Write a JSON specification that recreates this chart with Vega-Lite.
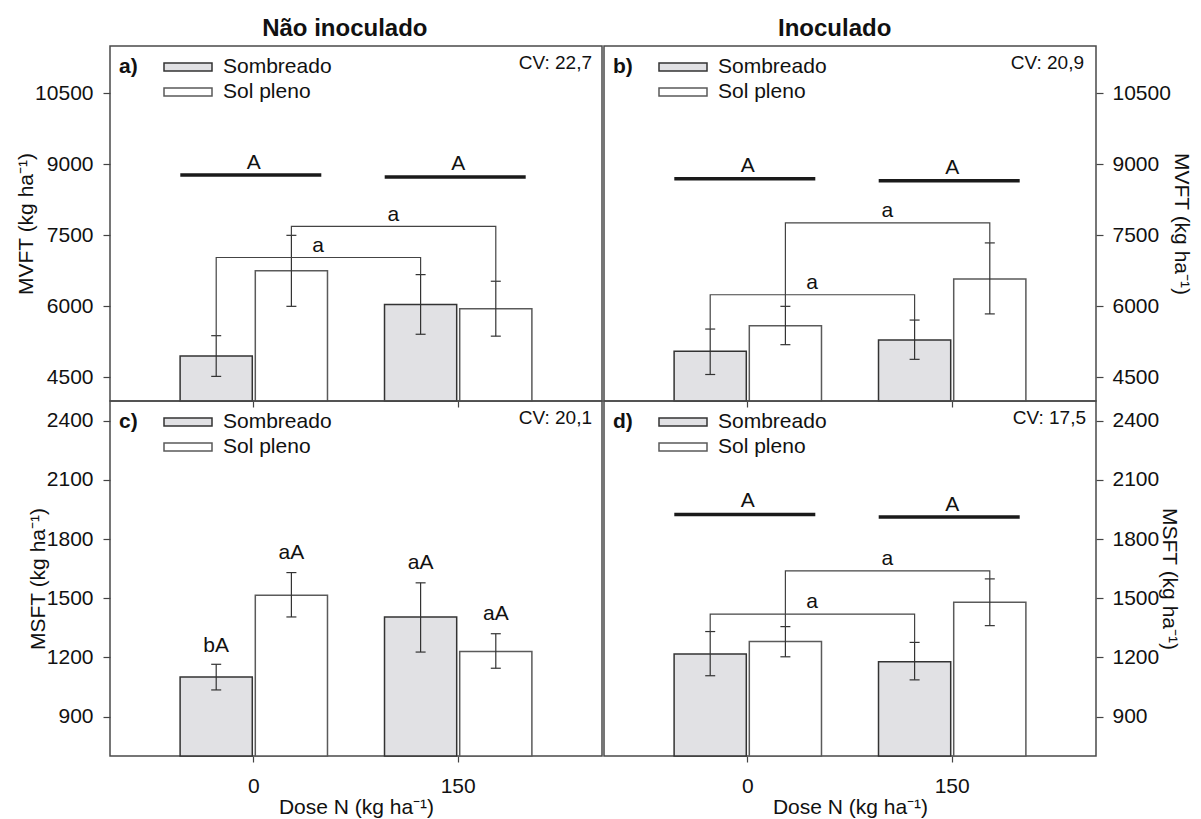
{
  "$schema": "https://vega.github.io/schema/vega-lite/v6.json",
  "padding": {"left": 14, "top": 17, "right": 5, "bottom": 0},
  "background": "#ffffff",
  "config": {
    "font": "Liberation Sans",
    "view": {"stroke": "#4a4a4a", "strokeWidth": 1.5},
    "axis": {"grid": false, "domain": false, "tickColor": "#444444", "tickWidth": 1.2, "labelFontSize": 21, "labelColor": "#111111", "titleFontSize": 21, "titleFontWeight": "normal", "titleColor": "#111111"},
    "title": {"color": "#111111"}
  },
  "datasets": {
    "barras": [
      {"painel": "a", "dose": 0, "trat": "Sombreado", "media": 4950, "inf": 4520, "sup": 5380},
      {"painel": "a", "dose": 0, "trat": "Sol pleno", "media": 6750, "inf": 6000, "sup": 7500},
      {"painel": "a", "dose": 150, "trat": "Sombreado", "media": 6040, "inf": 5410, "sup": 6670},
      {"painel": "a", "dose": 150, "trat": "Sol pleno", "media": 5950, "inf": 5370, "sup": 6530},
      {"painel": "b", "dose": 0, "trat": "Sombreado", "media": 5050, "inf": 4560, "sup": 5520},
      {"painel": "b", "dose": 0, "trat": "Sol pleno", "media": 5590, "inf": 5190, "sup": 6000},
      {"painel": "b", "dose": 150, "trat": "Sombreado", "media": 5290, "inf": 4880, "sup": 5710},
      {"painel": "b", "dose": 150, "trat": "Sol pleno", "media": 6580, "inf": 5840, "sup": 7340},
      {"painel": "c", "dose": 0, "trat": "Sombreado", "media": 1100, "inf": 1035, "sup": 1165},
      {"painel": "c", "dose": 0, "trat": "Sol pleno", "media": 1515, "inf": 1405, "sup": 1630},
      {"painel": "c", "dose": 150, "trat": "Sombreado", "media": 1405, "inf": 1227, "sup": 1578},
      {"painel": "c", "dose": 150, "trat": "Sol pleno", "media": 1230, "inf": 1145, "sup": 1320},
      {"painel": "d", "dose": 0, "trat": "Sombreado", "media": 1217, "inf": 1107, "sup": 1331},
      {"painel": "d", "dose": 0, "trat": "Sol pleno", "media": 1280, "inf": 1203, "sup": 1356},
      {"painel": "d", "dose": 150, "trat": "Sombreado", "media": 1178, "inf": 1086, "sup": 1276},
      {"painel": "d", "dose": 150, "trat": "Sol pleno", "media": 1480, "inf": 1361, "sup": 1598}
    ],
    "chaves": [
      {"painel": "a", "id": "a1", "trat": "Sombreado", "dose": 0, "y": 5380, "ordem": 1},
      {"painel": "a", "id": "a1", "trat": "Sombreado", "dose": 0, "y": 7032, "ordem": 2},
      {"painel": "a", "id": "a1", "trat": "Sombreado", "dose": 150, "y": 7032, "ordem": 3},
      {"painel": "a", "id": "a1", "trat": "Sombreado", "dose": 150, "y": 6670, "ordem": 4},
      {"painel": "a", "id": "a2", "trat": "Sol pleno", "dose": 0, "y": 7500, "ordem": 1},
      {"painel": "a", "id": "a2", "trat": "Sol pleno", "dose": 0, "y": 7691, "ordem": 2},
      {"painel": "a", "id": "a2", "trat": "Sol pleno", "dose": 150, "y": 7691, "ordem": 3},
      {"painel": "a", "id": "a2", "trat": "Sol pleno", "dose": 150, "y": 6530, "ordem": 4},
      {"painel": "b", "id": "b1", "trat": "Sombreado", "dose": 0, "y": 5520, "ordem": 1},
      {"painel": "b", "id": "b1", "trat": "Sombreado", "dose": 0, "y": 6245, "ordem": 2},
      {"painel": "b", "id": "b1", "trat": "Sombreado", "dose": 150, "y": 6245, "ordem": 3},
      {"painel": "b", "id": "b1", "trat": "Sombreado", "dose": 150, "y": 5710, "ordem": 4},
      {"painel": "b", "id": "b2", "trat": "Sol pleno", "dose": 0, "y": 6000, "ordem": 1},
      {"painel": "b", "id": "b2", "trat": "Sol pleno", "dose": 0, "y": 7762, "ordem": 2},
      {"painel": "b", "id": "b2", "trat": "Sol pleno", "dose": 150, "y": 7762, "ordem": 3},
      {"painel": "b", "id": "b2", "trat": "Sol pleno", "dose": 150, "y": 7340, "ordem": 4},
      {"painel": "d", "id": "d1", "trat": "Sombreado", "dose": 0, "y": 1331, "ordem": 1},
      {"painel": "d", "id": "d1", "trat": "Sombreado", "dose": 0, "y": 1419, "ordem": 2},
      {"painel": "d", "id": "d1", "trat": "Sombreado", "dose": 150, "y": 1419, "ordem": 3},
      {"painel": "d", "id": "d1", "trat": "Sombreado", "dose": 150, "y": 1276, "ordem": 4},
      {"painel": "d", "id": "d2", "trat": "Sol pleno", "dose": 0, "y": 1356, "ordem": 1},
      {"painel": "d", "id": "d2", "trat": "Sol pleno", "dose": 0, "y": 1639, "ordem": 2},
      {"painel": "d", "id": "d2", "trat": "Sol pleno", "dose": 150, "y": 1639, "ordem": 3},
      {"painel": "d", "id": "d2", "trat": "Sol pleno", "dose": 150, "y": 1598, "ordem": 4}
    ],
    "letras_chave": [
      {"painel": "a", "trat": "Sombreado", "dose": 0, "y": 7138, "letra": "a"},
      {"painel": "a", "trat": "Sol pleno", "dose": 0, "y": 7813, "letra": "a"},
      {"painel": "b", "trat": "Sombreado", "dose": 0, "y": 6357, "letra": "a"},
      {"painel": "b", "trat": "Sol pleno", "dose": 0, "y": 7883, "letra": "a"},
      {"painel": "d", "trat": "Sombreado", "dose": 0, "y": 1449, "letra": "a"},
      {"painel": "d", "trat": "Sol pleno", "dose": 0, "y": 1669, "letra": "a"}
    ],
    "grupos": [
      {"painel": "a", "dose": 0, "y_linha": 8777, "y_letra": 8911, "letra": "A"},
      {"painel": "a", "dose": 150, "y_linha": 8734, "y_letra": 8877, "letra": "A"},
      {"painel": "b", "dose": 0, "y_linha": 8698, "y_letra": 8840, "letra": "A"},
      {"painel": "b", "dose": 150, "y_linha": 8655, "y_letra": 8791, "letra": "A"},
      {"painel": "d", "dose": 0, "y_linha": 1924, "y_letra": 1963, "letra": "A"},
      {"painel": "d", "dose": 150, "y_linha": 1912, "y_letra": 1944, "letra": "A"}
    ],
    "letras_barras": [
      {"painel": "c", "dose": 0, "trat": "Sombreado", "y": 1225, "letra": "bA"},
      {"painel": "c", "dose": 0, "trat": "Sol pleno", "y": 1700, "letra": "aA"},
      {"painel": "c", "dose": 150, "trat": "Sombreado", "y": 1646, "letra": "aA"},
      {"painel": "c", "dose": 150, "trat": "Sol pleno", "y": 1390, "letra": "aA"}
    ]
  },
  "spacing": 0,
  "resolve": {"scale": {"fill": "independent", "stroke": "independent"}},
  "hconcat": [
    {
      "title": {"text": "Não inoculado", "anchor": "middle", "frame": "bounds", "fontSize": 24, "fontWeight": "bold", "offset": 4, "dx": 36},
      "bounds": "flush",
      "spacing": 0,
      "resolve": {"scale": {"fill": "independent", "stroke": "independent"}},
      "vconcat": [
        {
          "width": 492, "height": 355,
          "title": {"text": "CV: 22,7", "anchor": "end", "frame": "group", "baseline": "alphabetic", "offset": -42, "dx": -10, "fontSize": 19, "fontWeight": "normal"},
          "encoding": {"x": {"field": "dose", "type": "ordinal", "scale": {"paddingInner": 0.279, "paddingOuter": 0.343}, "axis": {"labels": false, "title": null, "tickSize": 6}}},
          "layer": [
            {"data": {"name": "barras"}, "transform": [{"filter": "datum.painel == 'a'"}],
             "mark": {"type": "bar", "strokeWidth": 1.5},
             "encoding": {
               "xOffset": {"field": "trat", "type": "nominal", "sort": ["Sombreado", "Sol pleno"], "scale": {"paddingInner": 0.04, "paddingOuter": 0}},
               "y": {"field": "media", "type": "quantitative", "scale": {"domain": [4000, 11500], "zero": false, "nice": false},
                     "axis": {"orient": "left", "values": [4500, 6000, 7500, 9000, 10500], "format": "d", "tickSize": 7, "labelPadding": 10, "title": "MVFT (kg ha⁻¹)", "titlePadding": -2}},
               "y2": {"datum": 4000},
               "fill": {"field": "trat", "type": "nominal", "sort": ["Sombreado", "Sol pleno"], "scale": {"domain": ["Sombreado", "Sol pleno"], "range": ["#e1e1e4", "#ffffff"]},
                        "legend": {"title": "a)", "orient": "none", "legendX": 9, "legendY": 10, "titleOrient": "left", "titleAnchor": "start", "titleBaseline": "top", "titleFontSize": 21, "titleFontWeight": "bold", "titleColor": "#111111", "titlePadding": 39, "labelFontSize": 21, "labelColor": "#111111", "labelOffset": 24, "symbolType": "M-2.4,-0.4H2.4V0.4H-2.4Z", "symbolSize": 400, "symbolStrokeWidth": 1.5, "rowPadding": 4, "padding": 0}},
               "stroke": {"field": "trat", "type": "nominal", "sort": ["Sombreado", "Sol pleno"], "scale": {"domain": ["Sombreado", "Sol pleno"], "range": ["#333333", "#5a5a5a"]},
                        "legend": {"title": "a)", "orient": "none", "legendX": 9, "legendY": 10, "titleOrient": "left", "titleAnchor": "start", "titleBaseline": "top", "titleFontSize": 21, "titleFontWeight": "bold", "titleColor": "#111111", "titlePadding": 39, "labelFontSize": 21, "labelColor": "#111111", "labelOffset": 24, "symbolType": "M-2.4,-0.4H2.4V0.4H-2.4Z", "symbolSize": 400, "symbolStrokeWidth": 1.5, "rowPadding": 4, "padding": 0}}
             }},
            {"data": {"name": "barras"}, "transform": [{"filter": "datum.painel == 'a'"}],
             "mark": {"type": "rule", "color": "#333333", "strokeWidth": 1.2},
             "encoding": {
               "xOffset": {"field": "trat", "type": "nominal", "sort": ["Sombreado", "Sol pleno"]},
               "y": {"field": "inf", "type": "quantitative", "scale": {"domain": [4000, 11500], "zero": false, "nice": false}},
               "y2": {"field": "sup"}
             }},
            {"data": {"name": "barras"}, "transform": [{"filter": "datum.painel == 'a'"}],
             "mark": {"type": "tick", "orient": "horizontal", "size": 10, "thickness": 1.2, "color": "#333333", "opacity": 1},
             "encoding": {
               "xOffset": {"field": "trat", "type": "nominal", "sort": ["Sombreado", "Sol pleno"]},
               "y": {"field": "inf", "type": "quantitative", "scale": {"domain": [4000, 11500], "zero": false, "nice": false}}
             }},
            {"data": {"name": "barras"}, "transform": [{"filter": "datum.painel == 'a'"}],
             "mark": {"type": "tick", "orient": "horizontal", "size": 10, "thickness": 1.2, "color": "#333333", "opacity": 1},
             "encoding": {
               "xOffset": {"field": "trat", "type": "nominal", "sort": ["Sombreado", "Sol pleno"]},
               "y": {"field": "sup", "type": "quantitative", "scale": {"domain": [4000, 11500], "zero": false, "nice": false}}
             }},
            {"data": {"name": "chaves"}, "transform": [{"filter": "datum.painel == 'a'"}],
             "mark": {"type": "line", "color": "#444444", "strokeWidth": 1.2},
             "encoding": {
               "xOffset": {"field": "trat", "type": "nominal", "sort": ["Sombreado", "Sol pleno"]},
               "y": {"field": "y", "type": "quantitative", "scale": {"domain": [4000, 11500], "zero": false, "nice": false}},
               "detail": {"field": "id"},
               "order": {"field": "ordem"}
             }},
            {"data": {"name": "letras_chave"}, "transform": [{"filter": "datum.painel == 'a'"}],
             "mark": {"type": "text", "fontSize": 21, "dx": 102, "baseline": "alphabetic", "color": "#111111"},
             "encoding": {
               "xOffset": {"field": "trat", "type": "nominal", "sort": ["Sombreado", "Sol pleno"]},
               "y": {"field": "y", "type": "quantitative", "scale": {"domain": [4000, 11500], "zero": false, "nice": false}},
               "text": {"field": "letra"}
             }},
            {"data": {"name": "grupos"}, "transform": [{"filter": "datum.painel == 'a'"}],
             "mark": {"type": "tick", "orient": "horizontal", "size": 141, "thickness": 3.5, "color": "#1a1a1a", "opacity": 1, "xOffset": -3},
             "encoding": {
               "y": {"field": "y_linha", "type": "quantitative", "scale": {"domain": [4000, 11500], "zero": false, "nice": false}}
             }},
            {"data": {"name": "grupos"}, "transform": [{"filter": "datum.painel == 'a'"}],
             "mark": {"type": "text", "fontSize": 21, "baseline": "alphabetic", "color": "#111111"},
             "encoding": {
               "y": {"field": "y_letra", "type": "quantitative", "scale": {"domain": [4000, 11500], "zero": false, "nice": false}},
               "text": {"field": "letra"}
             }}
          ]
        },
        {
          "width": 492, "height": 355,
          "title": {"text": "CV: 20,1", "anchor": "end", "frame": "group", "baseline": "alphabetic", "offset": -42, "dx": -10, "fontSize": 19, "fontWeight": "normal"},
          "encoding": {"x": {"field": "dose", "type": "ordinal", "scale": {"paddingInner": 0.279, "paddingOuter": 0.343}, "axis": {"labelAngle": 0, "labelPadding": 13, "tickSize": 6, "title": "Dose N (kg ha⁻¹)", "titlePadding": 0}}},
          "layer": [
            {"data": {"name": "barras"}, "transform": [{"filter": "datum.painel == 'c'"}],
             "mark": {"type": "bar", "strokeWidth": 1.5},
             "encoding": {
               "xOffset": {"field": "trat", "type": "nominal", "sort": ["Sombreado", "Sol pleno"], "scale": {"paddingInner": 0.04, "paddingOuter": 0}},
               "y": {"field": "media", "type": "quantitative", "scale": {"domain": [700, 2500], "zero": false, "nice": false},
                     "axis": {"orient": "left", "values": [900, 1200, 1500, 1800, 2100, 2400], "format": "d", "tickSize": 7, "labelPadding": 10, "title": "MSFT (kg ha⁻¹)", "titlePadding": -2}},
               "y2": {"datum": 700},
               "fill": {"field": "trat", "type": "nominal", "sort": ["Sombreado", "Sol pleno"], "scale": {"domain": ["Sombreado", "Sol pleno"], "range": ["#e1e1e4", "#ffffff"]},
                        "legend": {"title": "c)", "orient": "none", "legendX": 9, "legendY": 10, "titleOrient": "left", "titleAnchor": "start", "titleBaseline": "top", "titleFontSize": 21, "titleFontWeight": "bold", "titleColor": "#111111", "titlePadding": 39, "labelFontSize": 21, "labelColor": "#111111", "labelOffset": 24, "symbolType": "M-2.4,-0.4H2.4V0.4H-2.4Z", "symbolSize": 400, "symbolStrokeWidth": 1.5, "rowPadding": 4, "padding": 0}},
               "stroke": {"field": "trat", "type": "nominal", "sort": ["Sombreado", "Sol pleno"], "scale": {"domain": ["Sombreado", "Sol pleno"], "range": ["#333333", "#5a5a5a"]},
                        "legend": {"title": "c)", "orient": "none", "legendX": 9, "legendY": 10, "titleOrient": "left", "titleAnchor": "start", "titleBaseline": "top", "titleFontSize": 21, "titleFontWeight": "bold", "titleColor": "#111111", "titlePadding": 39, "labelFontSize": 21, "labelColor": "#111111", "labelOffset": 24, "symbolType": "M-2.4,-0.4H2.4V0.4H-2.4Z", "symbolSize": 400, "symbolStrokeWidth": 1.5, "rowPadding": 4, "padding": 0}}
             }},
            {"data": {"name": "barras"}, "transform": [{"filter": "datum.painel == 'c'"}],
             "mark": {"type": "rule", "color": "#333333", "strokeWidth": 1.2},
             "encoding": {
               "xOffset": {"field": "trat", "type": "nominal", "sort": ["Sombreado", "Sol pleno"]},
               "y": {"field": "inf", "type": "quantitative", "scale": {"domain": [700, 2500], "zero": false, "nice": false}},
               "y2": {"field": "sup"}
             }},
            {"data": {"name": "barras"}, "transform": [{"filter": "datum.painel == 'c'"}],
             "mark": {"type": "tick", "orient": "horizontal", "size": 10, "thickness": 1.2, "color": "#333333", "opacity": 1},
             "encoding": {
               "xOffset": {"field": "trat", "type": "nominal", "sort": ["Sombreado", "Sol pleno"]},
               "y": {"field": "inf", "type": "quantitative", "scale": {"domain": [700, 2500], "zero": false, "nice": false}}
             }},
            {"data": {"name": "barras"}, "transform": [{"filter": "datum.painel == 'c'"}],
             "mark": {"type": "tick", "orient": "horizontal", "size": 10, "thickness": 1.2, "color": "#333333", "opacity": 1},
             "encoding": {
               "xOffset": {"field": "trat", "type": "nominal", "sort": ["Sombreado", "Sol pleno"]},
               "y": {"field": "sup", "type": "quantitative", "scale": {"domain": [700, 2500], "zero": false, "nice": false}}
             }},
            {"data": {"name": "letras_barras"}, "transform": [{"filter": "datum.painel == 'c'"}],
             "mark": {"type": "text", "fontSize": 21, "baseline": "alphabetic", "color": "#111111"},
             "encoding": {
               "xOffset": {"field": "trat", "type": "nominal", "sort": ["Sombreado", "Sol pleno"]},
               "y": {"field": "y", "type": "quantitative", "scale": {"domain": [700, 2500], "zero": false, "nice": false}},
               "text": {"field": "letra"}
             }}
          ]
        }
      ]
    },
    {
      "title": {"text": "Inoculado", "anchor": "middle", "frame": "bounds", "fontSize": 24, "fontWeight": "bold", "offset": 4, "dx": -63},
      "bounds": "flush",
      "spacing": 0,
      "resolve": {"scale": {"fill": "independent", "stroke": "independent"}},
      "vconcat": [
        {
          "width": 492, "height": 355,
          "title": {"text": "CV: 20,9", "anchor": "end", "frame": "group", "baseline": "alphabetic", "offset": -42, "dx": -12, "fontSize": 19, "fontWeight": "normal"},
          "encoding": {"x": {"field": "dose", "type": "ordinal", "scale": {"paddingInner": 0.279, "paddingOuter": 0.343}, "axis": {"labels": false, "title": null, "tickSize": 6}}},
          "layer": [
            {"data": {"name": "barras"}, "transform": [{"filter": "datum.painel == 'b'"}],
             "mark": {"type": "bar", "strokeWidth": 1.5},
             "encoding": {
               "xOffset": {"field": "trat", "type": "nominal", "sort": ["Sombreado", "Sol pleno"], "scale": {"paddingInner": 0.04, "paddingOuter": 0}},
               "y": {"field": "media", "type": "quantitative", "scale": {"domain": [4000, 11500], "zero": false, "nice": false},
                     "axis": {"orient": "right", "values": [4500, 6000, 7500, 9000, 10500], "format": "d", "tickSize": 7, "labelPadding": 9, "title": "MVFT (kg ha⁻¹)", "titlePadding": 0}},
               "y2": {"datum": 4000},
               "fill": {"field": "trat", "type": "nominal", "sort": ["Sombreado", "Sol pleno"], "scale": {"domain": ["Sombreado", "Sol pleno"], "range": ["#e1e1e4", "#ffffff"]},
                        "legend": {"title": "b)", "orient": "none", "legendX": 9, "legendY": 10, "titleOrient": "left", "titleAnchor": "start", "titleBaseline": "top", "titleFontSize": 21, "titleFontWeight": "bold", "titleColor": "#111111", "titlePadding": 39, "labelFontSize": 21, "labelColor": "#111111", "labelOffset": 24, "symbolType": "M-2.4,-0.4H2.4V0.4H-2.4Z", "symbolSize": 400, "symbolStrokeWidth": 1.5, "rowPadding": 4, "padding": 0}},
               "stroke": {"field": "trat", "type": "nominal", "sort": ["Sombreado", "Sol pleno"], "scale": {"domain": ["Sombreado", "Sol pleno"], "range": ["#333333", "#5a5a5a"]},
                        "legend": {"title": "b)", "orient": "none", "legendX": 9, "legendY": 10, "titleOrient": "left", "titleAnchor": "start", "titleBaseline": "top", "titleFontSize": 21, "titleFontWeight": "bold", "titleColor": "#111111", "titlePadding": 39, "labelFontSize": 21, "labelColor": "#111111", "labelOffset": 24, "symbolType": "M-2.4,-0.4H2.4V0.4H-2.4Z", "symbolSize": 400, "symbolStrokeWidth": 1.5, "rowPadding": 4, "padding": 0}}
             }},
            {"data": {"name": "barras"}, "transform": [{"filter": "datum.painel == 'b'"}],
             "mark": {"type": "rule", "color": "#333333", "strokeWidth": 1.2},
             "encoding": {
               "xOffset": {"field": "trat", "type": "nominal", "sort": ["Sombreado", "Sol pleno"]},
               "y": {"field": "inf", "type": "quantitative", "scale": {"domain": [4000, 11500], "zero": false, "nice": false}},
               "y2": {"field": "sup"}
             }},
            {"data": {"name": "barras"}, "transform": [{"filter": "datum.painel == 'b'"}],
             "mark": {"type": "tick", "orient": "horizontal", "size": 10, "thickness": 1.2, "color": "#333333", "opacity": 1},
             "encoding": {
               "xOffset": {"field": "trat", "type": "nominal", "sort": ["Sombreado", "Sol pleno"]},
               "y": {"field": "inf", "type": "quantitative", "scale": {"domain": [4000, 11500], "zero": false, "nice": false}}
             }},
            {"data": {"name": "barras"}, "transform": [{"filter": "datum.painel == 'b'"}],
             "mark": {"type": "tick", "orient": "horizontal", "size": 10, "thickness": 1.2, "color": "#333333", "opacity": 1},
             "encoding": {
               "xOffset": {"field": "trat", "type": "nominal", "sort": ["Sombreado", "Sol pleno"]},
               "y": {"field": "sup", "type": "quantitative", "scale": {"domain": [4000, 11500], "zero": false, "nice": false}}
             }},
            {"data": {"name": "chaves"}, "transform": [{"filter": "datum.painel == 'b'"}],
             "mark": {"type": "line", "color": "#444444", "strokeWidth": 1.2},
             "encoding": {
               "xOffset": {"field": "trat", "type": "nominal", "sort": ["Sombreado", "Sol pleno"]},
               "y": {"field": "y", "type": "quantitative", "scale": {"domain": [4000, 11500], "zero": false, "nice": false}},
               "detail": {"field": "id"},
               "order": {"field": "ordem"}
             }},
            {"data": {"name": "letras_chave"}, "transform": [{"filter": "datum.painel == 'b'"}],
             "mark": {"type": "text", "fontSize": 21, "dx": 102, "baseline": "alphabetic", "color": "#111111"},
             "encoding": {
               "xOffset": {"field": "trat", "type": "nominal", "sort": ["Sombreado", "Sol pleno"]},
               "y": {"field": "y", "type": "quantitative", "scale": {"domain": [4000, 11500], "zero": false, "nice": false}},
               "text": {"field": "letra"}
             }},
            {"data": {"name": "grupos"}, "transform": [{"filter": "datum.painel == 'b'"}],
             "mark": {"type": "tick", "orient": "horizontal", "size": 141, "thickness": 3.5, "color": "#1a1a1a", "opacity": 1, "xOffset": -3},
             "encoding": {
               "y": {"field": "y_linha", "type": "quantitative", "scale": {"domain": [4000, 11500], "zero": false, "nice": false}}
             }},
            {"data": {"name": "grupos"}, "transform": [{"filter": "datum.painel == 'b'"}],
             "mark": {"type": "text", "fontSize": 21, "baseline": "alphabetic", "color": "#111111"},
             "encoding": {
               "y": {"field": "y_letra", "type": "quantitative", "scale": {"domain": [4000, 11500], "zero": false, "nice": false}},
               "text": {"field": "letra"}
             }}
          ]
        },
        {
          "width": 492, "height": 355,
          "title": {"text": "CV: 17,5", "anchor": "end", "frame": "group", "baseline": "alphabetic", "offset": -42, "dx": -10, "fontSize": 19, "fontWeight": "normal"},
          "encoding": {"x": {"field": "dose", "type": "ordinal", "scale": {"paddingInner": 0.279, "paddingOuter": 0.343}, "axis": {"labelAngle": 0, "labelPadding": 13, "tickSize": 6, "title": "Dose N (kg ha⁻¹)", "titlePadding": 0}}},
          "layer": [
            {"data": {"name": "barras"}, "transform": [{"filter": "datum.painel == 'd'"}],
             "mark": {"type": "bar", "strokeWidth": 1.5},
             "encoding": {
               "xOffset": {"field": "trat", "type": "nominal", "sort": ["Sombreado", "Sol pleno"], "scale": {"paddingInner": 0.04, "paddingOuter": 0}},
               "y": {"field": "media", "type": "quantitative", "scale": {"domain": [700, 2500], "zero": false, "nice": false},
                     "axis": {"orient": "right", "values": [900, 1200, 1500, 1800, 2100, 2400], "format": "d", "tickSize": 7, "labelPadding": 9, "title": "MSFT (kg ha⁻¹)", "titlePadding": 0}},
               "y2": {"datum": 700},
               "fill": {"field": "trat", "type": "nominal", "sort": ["Sombreado", "Sol pleno"], "scale": {"domain": ["Sombreado", "Sol pleno"], "range": ["#e1e1e4", "#ffffff"]},
                        "legend": {"title": "d)", "orient": "none", "legendX": 9, "legendY": 10, "titleOrient": "left", "titleAnchor": "start", "titleBaseline": "top", "titleFontSize": 21, "titleFontWeight": "bold", "titleColor": "#111111", "titlePadding": 39, "labelFontSize": 21, "labelColor": "#111111", "labelOffset": 24, "symbolType": "M-2.4,-0.4H2.4V0.4H-2.4Z", "symbolSize": 400, "symbolStrokeWidth": 1.5, "rowPadding": 4, "padding": 0}},
               "stroke": {"field": "trat", "type": "nominal", "sort": ["Sombreado", "Sol pleno"], "scale": {"domain": ["Sombreado", "Sol pleno"], "range": ["#333333", "#5a5a5a"]},
                        "legend": {"title": "d)", "orient": "none", "legendX": 9, "legendY": 10, "titleOrient": "left", "titleAnchor": "start", "titleBaseline": "top", "titleFontSize": 21, "titleFontWeight": "bold", "titleColor": "#111111", "titlePadding": 39, "labelFontSize": 21, "labelColor": "#111111", "labelOffset": 24, "symbolType": "M-2.4,-0.4H2.4V0.4H-2.4Z", "symbolSize": 400, "symbolStrokeWidth": 1.5, "rowPadding": 4, "padding": 0}}
             }},
            {"data": {"name": "barras"}, "transform": [{"filter": "datum.painel == 'd'"}],
             "mark": {"type": "rule", "color": "#333333", "strokeWidth": 1.2},
             "encoding": {
               "xOffset": {"field": "trat", "type": "nominal", "sort": ["Sombreado", "Sol pleno"]},
               "y": {"field": "inf", "type": "quantitative", "scale": {"domain": [700, 2500], "zero": false, "nice": false}},
               "y2": {"field": "sup"}
             }},
            {"data": {"name": "barras"}, "transform": [{"filter": "datum.painel == 'd'"}],
             "mark": {"type": "tick", "orient": "horizontal", "size": 10, "thickness": 1.2, "color": "#333333", "opacity": 1},
             "encoding": {
               "xOffset": {"field": "trat", "type": "nominal", "sort": ["Sombreado", "Sol pleno"]},
               "y": {"field": "inf", "type": "quantitative", "scale": {"domain": [700, 2500], "zero": false, "nice": false}}
             }},
            {"data": {"name": "barras"}, "transform": [{"filter": "datum.painel == 'd'"}],
             "mark": {"type": "tick", "orient": "horizontal", "size": 10, "thickness": 1.2, "color": "#333333", "opacity": 1},
             "encoding": {
               "xOffset": {"field": "trat", "type": "nominal", "sort": ["Sombreado", "Sol pleno"]},
               "y": {"field": "sup", "type": "quantitative", "scale": {"domain": [700, 2500], "zero": false, "nice": false}}
             }},
            {"data": {"name": "chaves"}, "transform": [{"filter": "datum.painel == 'd'"}],
             "mark": {"type": "line", "color": "#444444", "strokeWidth": 1.2},
             "encoding": {
               "xOffset": {"field": "trat", "type": "nominal", "sort": ["Sombreado", "Sol pleno"]},
               "y": {"field": "y", "type": "quantitative", "scale": {"domain": [700, 2500], "zero": false, "nice": false}},
               "detail": {"field": "id"},
               "order": {"field": "ordem"}
             }},
            {"data": {"name": "letras_chave"}, "transform": [{"filter": "datum.painel == 'd'"}],
             "mark": {"type": "text", "fontSize": 21, "dx": 102, "baseline": "alphabetic", "color": "#111111"},
             "encoding": {
               "xOffset": {"field": "trat", "type": "nominal", "sort": ["Sombreado", "Sol pleno"]},
               "y": {"field": "y", "type": "quantitative", "scale": {"domain": [700, 2500], "zero": false, "nice": false}},
               "text": {"field": "letra"}
             }},
            {"data": {"name": "grupos"}, "transform": [{"filter": "datum.painel == 'd'"}],
             "mark": {"type": "tick", "orient": "horizontal", "size": 141, "thickness": 3.5, "color": "#1a1a1a", "opacity": 1, "xOffset": -3},
             "encoding": {
               "y": {"field": "y_linha", "type": "quantitative", "scale": {"domain": [700, 2500], "zero": false, "nice": false}}
             }},
            {"data": {"name": "grupos"}, "transform": [{"filter": "datum.painel == 'd'"}],
             "mark": {"type": "text", "fontSize": 21, "baseline": "alphabetic", "color": "#111111"},
             "encoding": {
               "y": {"field": "y_letra", "type": "quantitative", "scale": {"domain": [700, 2500], "zero": false, "nice": false}},
               "text": {"field": "letra"}
             }}
          ]
        }
      ]
    }
  ]
}
